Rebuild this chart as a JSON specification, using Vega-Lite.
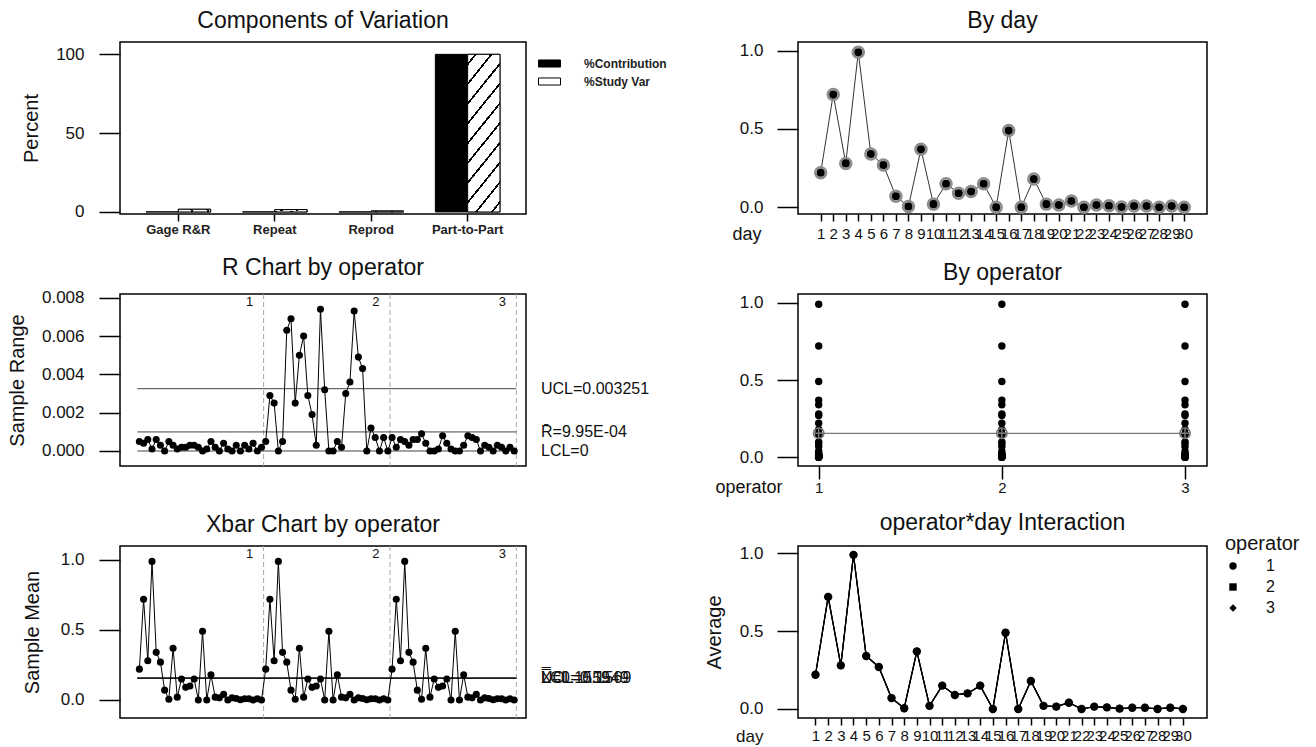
{
  "$schema": "https://vega.github.io/schema/vega-lite/v6.json",
  "autosize": {"type": "none"},
  "padding": {"left": 120, "top": 42, "right": 1196, "bottom": 705},
  "background": "white",
  "config": {
    "font": "Liberation Sans",
    "view": {"stroke": "#000", "strokeWidth": 1.5},
    "axis": {"domain": false, "grid": false, "tickColor": "#000", "tickWidth": 1.5, "labelColor": "#111", "titleColor": "#111", "labelFontSize": 17, "titleFontSize": 20, "titleFontWeight": "normal", "labelFont": "Liberation Sans", "titleFont": "Liberation Sans"},
    "title": {"fontSize": 23, "fontWeight": "normal", "color": "#111", "offset": 9, "frame": "group", "anchor": "middle", "font": "Liberation Sans"},
    "legend": {"labelFont": "Liberation Sans", "titleFont": "Liberation Sans"}
  },
  "datasets": {
    "obs": [
      {"s":1,"operator":1,"day":1,"mean":0.22,"range":0.0005},
      {"s":2,"operator":1,"day":2,"mean":0.72,"range":0.0004},
      {"s":3,"operator":1,"day":3,"mean":0.28,"range":0.0006},
      {"s":4,"operator":1,"day":4,"mean":0.99,"range":0.0001},
      {"s":5,"operator":1,"day":5,"mean":0.34,"range":0.0006},
      {"s":6,"operator":1,"day":6,"mean":0.27,"range":0.0003},
      {"s":7,"operator":1,"day":7,"mean":0.07,"range":0.0},
      {"s":8,"operator":1,"day":8,"mean":0.005,"range":0.0005},
      {"s":9,"operator":1,"day":9,"mean":0.37,"range":0.0003},
      {"s":10,"operator":1,"day":10,"mean":0.02,"range":0.0001},
      {"s":11,"operator":1,"day":11,"mean":0.15,"range":0.0002},
      {"s":12,"operator":1,"day":12,"mean":0.09,"range":0.0002},
      {"s":13,"operator":1,"day":13,"mean":0.1,"range":0.0003},
      {"s":14,"operator":1,"day":14,"mean":0.15,"range":0.0003},
      {"s":15,"operator":1,"day":15,"mean":0.0,"range":0.0002},
      {"s":16,"operator":1,"day":16,"mean":0.49,"range":0.0},
      {"s":17,"operator":1,"day":17,"mean":0.0,"range":0.0001},
      {"s":18,"operator":1,"day":18,"mean":0.18,"range":0.0005},
      {"s":19,"operator":1,"day":19,"mean":0.02,"range":0.0002},
      {"s":20,"operator":1,"day":20,"mean":0.015,"range":0.0},
      {"s":21,"operator":1,"day":21,"mean":0.04,"range":0.0004},
      {"s":22,"operator":1,"day":22,"mean":0.0,"range":0.0001},
      {"s":23,"operator":1,"day":23,"mean":0.015,"range":0.0},
      {"s":24,"operator":1,"day":24,"mean":0.01,"range":0.0003},
      {"s":25,"operator":1,"day":25,"mean":0.002,"range":0.0},
      {"s":26,"operator":1,"day":26,"mean":0.008,"range":0.0003},
      {"s":27,"operator":1,"day":27,"mean":0.008,"range":0.0001},
      {"s":28,"operator":1,"day":28,"mean":0.0,"range":0.0004},
      {"s":29,"operator":1,"day":29,"mean":0.008,"range":0.0},
      {"s":30,"operator":1,"day":30,"mean":0.0,"range":0.0002},
      {"s":31,"operator":2,"day":1,"mean":0.22,"range":0.0005},
      {"s":32,"operator":2,"day":2,"mean":0.72,"range":0.0029},
      {"s":33,"operator":2,"day":3,"mean":0.28,"range":0.0025},
      {"s":34,"operator":2,"day":4,"mean":0.99,"range":0.0},
      {"s":35,"operator":2,"day":5,"mean":0.34,"range":0.0005},
      {"s":36,"operator":2,"day":6,"mean":0.27,"range":0.0063},
      {"s":37,"operator":2,"day":7,"mean":0.07,"range":0.0069},
      {"s":38,"operator":2,"day":8,"mean":0.005,"range":0.0025},
      {"s":39,"operator":2,"day":9,"mean":0.37,"range":0.005},
      {"s":40,"operator":2,"day":10,"mean":0.02,"range":0.006},
      {"s":41,"operator":2,"day":11,"mean":0.15,"range":0.0029},
      {"s":42,"operator":2,"day":12,"mean":0.09,"range":0.0019},
      {"s":43,"operator":2,"day":13,"mean":0.1,"range":0.0003},
      {"s":44,"operator":2,"day":14,"mean":0.15,"range":0.0074},
      {"s":45,"operator":2,"day":15,"mean":0.0,"range":0.0032},
      {"s":46,"operator":2,"day":16,"mean":0.49,"range":0.0},
      {"s":47,"operator":2,"day":17,"mean":0.0,"range":0.0},
      {"s":48,"operator":2,"day":18,"mean":0.18,"range":0.0005},
      {"s":49,"operator":2,"day":19,"mean":0.02,"range":0.0002},
      {"s":50,"operator":2,"day":20,"mean":0.015,"range":0.003},
      {"s":51,"operator":2,"day":21,"mean":0.04,"range":0.0036},
      {"s":52,"operator":2,"day":22,"mean":0.0,"range":0.0073},
      {"s":53,"operator":2,"day":23,"mean":0.015,"range":0.0049},
      {"s":54,"operator":2,"day":24,"mean":0.01,"range":0.0043},
      {"s":55,"operator":2,"day":25,"mean":0.002,"range":0.0},
      {"s":56,"operator":2,"day":26,"mean":0.008,"range":0.0012},
      {"s":57,"operator":2,"day":27,"mean":0.008,"range":0.0007},
      {"s":58,"operator":2,"day":28,"mean":0.0,"range":0.0},
      {"s":59,"operator":2,"day":29,"mean":0.008,"range":0.0007},
      {"s":60,"operator":2,"day":30,"mean":0.0,"range":0.0},
      {"s":61,"operator":3,"day":1,"mean":0.22,"range":0.0007},
      {"s":62,"operator":3,"day":2,"mean":0.72,"range":0.0002},
      {"s":63,"operator":3,"day":3,"mean":0.28,"range":0.0006},
      {"s":64,"operator":3,"day":4,"mean":0.99,"range":0.0005},
      {"s":65,"operator":3,"day":5,"mean":0.34,"range":0.0003},
      {"s":66,"operator":3,"day":6,"mean":0.27,"range":0.0006},
      {"s":67,"operator":3,"day":7,"mean":0.07,"range":0.0006},
      {"s":68,"operator":3,"day":8,"mean":0.005,"range":0.0009},
      {"s":69,"operator":3,"day":9,"mean":0.37,"range":0.0004},
      {"s":70,"operator":3,"day":10,"mean":0.02,"range":0.0},
      {"s":71,"operator":3,"day":11,"mean":0.15,"range":0.0},
      {"s":72,"operator":3,"day":12,"mean":0.09,"range":0.0001},
      {"s":73,"operator":3,"day":13,"mean":0.1,"range":0.0008},
      {"s":74,"operator":3,"day":14,"mean":0.15,"range":0.0004},
      {"s":75,"operator":3,"day":15,"mean":0.0,"range":0.0001},
      {"s":76,"operator":3,"day":16,"mean":0.49,"range":0.0},
      {"s":77,"operator":3,"day":17,"mean":0.0,"range":0.0},
      {"s":78,"operator":3,"day":18,"mean":0.18,"range":0.0003},
      {"s":79,"operator":3,"day":19,"mean":0.02,"range":0.0008},
      {"s":80,"operator":3,"day":20,"mean":0.015,"range":0.0007},
      {"s":81,"operator":3,"day":21,"mean":0.04,"range":0.0006},
      {"s":82,"operator":3,"day":22,"mean":0.0,"range":0.0},
      {"s":83,"operator":3,"day":23,"mean":0.015,"range":0.0003},
      {"s":84,"operator":3,"day":24,"mean":0.01,"range":0.0002},
      {"s":85,"operator":3,"day":25,"mean":0.002,"range":0.0},
      {"s":86,"operator":3,"day":26,"mean":0.008,"range":0.0003},
      {"s":87,"operator":3,"day":27,"mean":0.008,"range":0.0002},
      {"s":88,"operator":3,"day":28,"mean":0.0,"range":0.0},
      {"s":89,"operator":3,"day":29,"mean":0.008,"range":0.0002},
      {"s":90,"operator":3,"day":30,"mean":0.0,"range":0.0}
    ],
    "comp": [
      {"source": "Gage R&R", "stat": "%Contribution", "pct": 0.03},
      {"source": "Gage R&R", "stat": "%Study Var", "pct": 1.7},
      {"source": "Repeat", "stat": "%Contribution", "pct": 0.02},
      {"source": "Repeat", "stat": "%Study Var", "pct": 1.5},
      {"source": "Reprod", "stat": "%Contribution", "pct": 0.0},
      {"source": "Reprod", "stat": "%Study Var", "pct": 0.6},
      {"source": "Part-to-Part", "stat": "%Contribution", "pct": 99.97},
      {"source": "Part-to-Part", "stat": "%Study Var", "pct": 99.99}
    ],
    "bounds": [
      {"b": 30.5, "op": "1"},
      {"b": 60.5, "op": "2"},
      {"b": 90.5, "op": "3"}
    ],
    "rlim": [
      {"v": 0.003251, "label": "UCL=0.003251"},
      {"v": 0.000995, "label": "R\u0304=9.95E-04"},
      {"v": 0.0, "label": "LCL=0"}
    ],
    "xlim": [
      {"v": 0.1569, "label": "UCL=0.1569"},
      {"v": 0.1559, "label": "X\u033F=0.1559"},
      {"v": 0.1549, "label": "LCL=0.1549"}
    ],
    "opmean": [
      {"operator": 1, "mean": 0.155},
      {"operator": 2, "mean": 0.155},
      {"operator": 3, "mean": 0.155}
    ]
  },
  "columns": 2,
  "bounds": "flush",
  "spacing": {"row": 80, "column": 272},
  "concat": [
    {
      "title": "Components of Variation",
      "width": 406,
      "height": 172,
      "data": {"name": "comp"},
      "layer": [
        {
          "mark": {"type": "bar", "stroke": "#000", "strokeWidth": 1},
          "encoding": {
            "x": {"field": "source", "type": "nominal", "sort": ["Gage R&R", "Repeat", "Reprod", "Part-to-Part"], "scale": {"paddingInner": 0.33, "paddingOuter": 0.27}, "axis": {"title": null, "labelAngle": 0, "tickSize": 7, "labelFontSize": 13, "labelFontWeight": "bold", "labelPadding": 2, "labelColor": "#222"}},
            "xOffset": {"field": "stat", "type": "nominal", "sort": ["%Contribution", "%Study Var"], "scale": {"paddingInner": 0, "paddingOuter": 0}},
            "y": {"field": "pct", "type": "quantitative", "scale": {"domain": [-1.3, 107.8], "nice": false, "zero": false}, "axis": {"title": "Percent", "values": [0, 50, 100], "tickSize": 21, "labelPadding": 15, "titleX": -89, "titleY": 86, "titleAngle": -90, "titleAlign": "center", "titleBaseline": "middle"}},
            "y2": {"datum": 0},
            "color": {
              "field": "stat", "type": "nominal",
              "scale": {"domain": ["%Contribution", "%Study Var"], "range": ["#000", "#fff"]},
              "legend": {
                "title": null, "orient": "none", "legendX": 418, "legendY": 10, "padding": 0,
                "symbolType": "M-1,-0.32H1V0.32H-1Z", "symbolSize": 484, "symbolStrokeColor": "#000", "symbolStrokeWidth": 1, "symbolOpacity": 1,
                "labelFontSize": 12, "labelFontWeight": "bold", "labelOffset": 23, "rowPadding": -2, "labelColor": "#222",
                "encode": {"symbols": {"update": {
                  "fill": [
                    {"test": "datum.value === '%Study Var'", "value": {"gradient": "linear", "x1": 0, "y1": 0, "x2": 1.167, "y2": 0.265, "stops": [
                      {"offset": 0, "color": "#fff"}, {"offset": 0.09, "color": "#fff"}, {"offset": 0.09, "color": "#000"}, {"offset": 0.16, "color": "#000"}, {"offset": 0.16, "color": "#fff"},
                      {"offset": 0.34, "color": "#fff"}, {"offset": 0.34, "color": "#000"}, {"offset": 0.41, "color": "#000"}, {"offset": 0.41, "color": "#fff"},
                      {"offset": 0.59, "color": "#fff"}, {"offset": 0.59, "color": "#000"}, {"offset": 0.66, "color": "#000"}, {"offset": 0.66, "color": "#fff"},
                      {"offset": 0.84, "color": "#fff"}, {"offset": 0.84, "color": "#000"}, {"offset": 0.91, "color": "#000"}, {"offset": 0.91, "color": "#fff"},
                      {"offset": 1, "color": "#fff"}
                    ]}},
                    {"value": "#000"}
                  ],
                  "stroke": {"value": "#000"}
                }}}
              }
            }
          }
        },
        {
          "transform": [{"filter": "datum.stat === '%Study Var'"}],
          "mark": {"type": "bar", "stroke": "#000", "strokeWidth": 1, "fill": {"gradient": "linear", "x1": 0, "y1": 0, "x2": 0.3, "y2": 1.178, "stops": [
            {"offset": 0, "color": "#fff"},
            {"offset": 0.043, "color": "#fff"}, {"offset": 0.043, "color": "#000"}, {"offset": 0.057, "color": "#000"}, {"offset": 0.057, "color": "#fff"},
            {"offset": 0.143, "color": "#fff"}, {"offset": 0.143, "color": "#000"}, {"offset": 0.157, "color": "#000"}, {"offset": 0.157, "color": "#fff"},
            {"offset": 0.243, "color": "#fff"}, {"offset": 0.243, "color": "#000"}, {"offset": 0.257, "color": "#000"}, {"offset": 0.257, "color": "#fff"},
            {"offset": 0.343, "color": "#fff"}, {"offset": 0.343, "color": "#000"}, {"offset": 0.357, "color": "#000"}, {"offset": 0.357, "color": "#fff"},
            {"offset": 0.443, "color": "#fff"}, {"offset": 0.443, "color": "#000"}, {"offset": 0.457, "color": "#000"}, {"offset": 0.457, "color": "#fff"},
            {"offset": 0.543, "color": "#fff"}, {"offset": 0.543, "color": "#000"}, {"offset": 0.557, "color": "#000"}, {"offset": 0.557, "color": "#fff"},
            {"offset": 0.643, "color": "#fff"}, {"offset": 0.643, "color": "#000"}, {"offset": 0.657, "color": "#000"}, {"offset": 0.657, "color": "#fff"},
            {"offset": 0.743, "color": "#fff"}, {"offset": 0.743, "color": "#000"}, {"offset": 0.757, "color": "#000"}, {"offset": 0.757, "color": "#fff"},
            {"offset": 0.843, "color": "#fff"}, {"offset": 0.843, "color": "#000"}, {"offset": 0.857, "color": "#000"}, {"offset": 0.857, "color": "#fff"},
            {"offset": 0.943, "color": "#fff"}, {"offset": 0.943, "color": "#000"}, {"offset": 0.957, "color": "#000"}, {"offset": 0.957, "color": "#fff"},
            {"offset": 1, "color": "#fff"}
          ]}},
          "encoding": {
            "x": {"field": "source", "type": "nominal", "sort": ["Gage R&R", "Repeat", "Reprod", "Part-to-Part"], "scale": {"paddingInner": 0.33, "paddingOuter": 0.27}, "axis": {"title": null, "labelAngle": 0, "tickSize": 7, "labelFontSize": 13, "labelFontWeight": "bold", "labelPadding": 2, "labelColor": "#222"}},
            "xOffset": {"field": "stat", "type": "nominal", "sort": ["%Contribution", "%Study Var"], "scale": {"domain": ["%Contribution", "%Study Var"], "paddingInner": 0, "paddingOuter": 0}},
            "y": {"field": "pct", "type": "quantitative", "scale": {"domain": [-1.3, 107.8], "nice": false, "zero": false}, "axis": {"title": "Percent", "values": [0, 50, 100], "tickSize": 21, "labelPadding": 15, "titleX": -89, "titleY": 86, "titleAngle": -90, "titleAlign": "center", "titleBaseline": "middle"}},
            "y2": {"datum": 0}
          }
        }
      ]
    },
    {
      "title": "By day",
      "width": 409,
      "height": 172,
      "data": {"name": "obs"},
      "layer": [
        {
          "mark": {"type": "line", "color": "#333", "strokeWidth": 1},
          "encoding": {
            "x": {"field": "day", "type": "quantitative", "scale": {"domain": [-0.81, 31.82], "nice": false, "zero": false}, "axis": {"title": "day", "values": [1,2,3,4,5,6,7,8,9,10,11,12,13,14,15,16,17,18,19,20,21,22,23,24,25,26,27,28,29,30], "tickSize": 7, "labelPadding": 5, "labelOverlap": false, "labelFontSize": 15, "titleX": -37, "titleY": 20, "titleAlign": "right", "titleBaseline": "middle", "titleAngle": 0, "titleFontSize": 18}},
            "y": {"aggregate": "mean", "field": "mean", "type": "quantitative", "scale": {"domain": [-0.043, 1.055], "nice": false, "zero": false}, "axis": {"title": " ", "values": [0, 0.5, 1], "format": ".1f", "tickSize": 21, "labelPadding": 14}}
          }
        },
        {
          "mark": {"type": "point", "shape": "circle", "filled": false, "stroke": "#8c8c8c", "strokeWidth": 2.5, "size": 120, "opacity": 1},
          "encoding": {
            "x": {"field": "day", "type": "quantitative", "scale": {"domain": [-0.81, 31.82], "nice": false, "zero": false}, "axis": {"title": "day", "values": [1,2,3,4,5,6,7,8,9,10,11,12,13,14,15,16,17,18,19,20,21,22,23,24,25,26,27,28,29,30], "tickSize": 7, "labelPadding": 5, "labelOverlap": false, "labelFontSize": 15, "titleX": -37, "titleY": 20, "titleAlign": "right", "titleBaseline": "middle", "titleAngle": 0, "titleFontSize": 18}},
            "y": {"aggregate": "mean", "field": "mean", "type": "quantitative", "scale": {"domain": [-0.043, 1.055], "nice": false, "zero": false}, "axis": {"title": " ", "values": [0, 0.5, 1], "format": ".1f", "tickSize": 21, "labelPadding": 14}}
          }
        },
        {
          "mark": {"type": "circle", "color": "#000", "size": 65, "opacity": 1},
          "encoding": {
            "x": {"field": "day", "type": "quantitative", "scale": {"domain": [-0.81, 31.82], "nice": false, "zero": false}, "axis": {"title": "day", "values": [1,2,3,4,5,6,7,8,9,10,11,12,13,14,15,16,17,18,19,20,21,22,23,24,25,26,27,28,29,30], "tickSize": 7, "labelPadding": 5, "labelOverlap": false, "labelFontSize": 15, "titleX": -37, "titleY": 20, "titleAlign": "right", "titleBaseline": "middle", "titleAngle": 0, "titleFontSize": 18}},
            "y": {"aggregate": "mean", "field": "mean", "type": "quantitative", "scale": {"domain": [-0.043, 1.055], "nice": false, "zero": false}, "axis": {"title": " ", "values": [0, 0.5, 1], "format": ".1f", "tickSize": 21, "labelPadding": 14}}
          }
        }
      ]
    },
    {
      "title": "R Chart by operator",
      "width": 406,
      "height": 172,
      "layer": [
        {
          "data": {"name": "bounds"},
          "mark": {"type": "rule", "color": "#a8a8a8", "strokeDash": [5, 3], "strokeWidth": 1},
          "encoding": {"x": {"field": "b", "type": "quantitative", "scale": {"domain": [-3.6, 92.8], "nice": false, "zero": false}, "axis": null}}
        },
        {
          "data": {"name": "bounds"},
          "mark": {"type": "text", "dx": -14, "dy": 2, "baseline": "top", "align": "center", "fontSize": 13, "color": "#111"},
          "encoding": {
            "x": {"field": "b", "type": "quantitative", "scale": {"domain": [-3.6, 92.8], "nice": false, "zero": false}, "axis": null},
            "y": {"datum": 0.008193, "type": "quantitative", "scale": {"domain": [-0.000783, 0.008193], "nice": false, "zero": false}, "axis": {"title": "Sample Range", "values": [0, 0.002, 0.004, 0.006, 0.008], "format": ".3f", "tickSize": 21, "labelPadding": 15, "titleX": -103, "titleY": 86, "titleAngle": -90, "titleAlign": "center", "titleBaseline": "middle"}},
            "text": {"field": "op"}
          }
        },
        {
          "data": {"name": "rlim"},
          "mark": {"type": "rule", "color": "#444", "strokeWidth": 1},
          "encoding": {
            "y": {"field": "v", "type": "quantitative", "scale": {"domain": [-0.000783, 0.008193], "nice": false, "zero": false}, "axis": {"title": "Sample Range", "values": [0, 0.002, 0.004, 0.006, 0.008], "format": ".3f", "tickSize": 21, "labelPadding": 15, "titleX": -103, "titleY": 86, "titleAngle": -90, "titleAlign": "center", "titleBaseline": "middle"}},
            "x": {"datum": 0.5, "type": "quantitative", "scale": {"domain": [-3.6, 92.8], "nice": false, "zero": false}, "axis": null},
            "x2": {"datum": 90.5}
          }
        },
        {
          "data": {"name": "obs"},
          "mark": {"type": "line", "color": "#000", "strokeWidth": 1},
          "encoding": {
            "x": {"field": "s", "type": "quantitative", "scale": {"domain": [-3.6, 92.8], "nice": false, "zero": false}, "axis": null},
            "y": {"field": "range", "type": "quantitative", "scale": {"domain": [-0.000783, 0.008193], "nice": false, "zero": false}, "axis": {"title": "Sample Range", "values": [0, 0.002, 0.004, 0.006, 0.008], "format": ".3f", "tickSize": 21, "labelPadding": 15, "titleX": -103, "titleY": 86, "titleAngle": -90, "titleAlign": "center", "titleBaseline": "middle"}}
          }
        },
        {
          "data": {"name": "obs"},
          "mark": {"type": "circle", "color": "#000", "size": 50, "opacity": 1},
          "encoding": {
            "x": {"field": "s", "type": "quantitative", "scale": {"domain": [-3.6, 92.8], "nice": false, "zero": false}, "axis": null},
            "y": {"field": "range", "type": "quantitative", "scale": {"domain": [-0.000783, 0.008193], "nice": false, "zero": false}, "axis": {"title": "Sample Range", "values": [0, 0.002, 0.004, 0.006, 0.008], "format": ".3f", "tickSize": 21, "labelPadding": 15, "titleX": -103, "titleY": 86, "titleAngle": -90, "titleAlign": "center", "titleBaseline": "middle"}}
          }
        },
        {
          "data": {"name": "rlim"},
          "mark": {"type": "text", "align": "left", "baseline": "middle", "dx": 15, "fontSize": 16, "color": "#111"},
          "encoding": {
            "x": {"datum": 92.8, "type": "quantitative", "scale": {"domain": [-3.6, 92.8], "nice": false, "zero": false}, "axis": null},
            "y": {"field": "v", "type": "quantitative", "scale": {"domain": [-0.000783, 0.008193], "nice": false, "zero": false}, "axis": {"title": "Sample Range", "values": [0, 0.002, 0.004, 0.006, 0.008], "format": ".3f", "tickSize": 21, "labelPadding": 15, "titleX": -103, "titleY": 86, "titleAngle": -90, "titleAlign": "center", "titleBaseline": "middle"}},
            "text": {"field": "label"}
          }
        }
      ]
    },
    {
      "title": "By operator",
      "width": 409,
      "height": 172,
      "layer": [
        {
          "data": {"name": "obs"},
          "mark": {"type": "circle", "color": "#000", "size": 55, "opacity": 1},
          "encoding": {
            "x": {"field": "operator", "type": "quantitative", "scale": {"domain": [0.887, 3.12], "nice": false, "zero": false}, "axis": {"title": "operator", "values": [1, 2, 3], "tickSize": 13, "labelPadding": 1, "labelFontSize": 15, "titleX": -16, "titleY": 21, "titleAlign": "right", "titleBaseline": "middle", "titleAngle": 0, "titleFontSize": 18}},
            "y": {"field": "mean", "type": "quantitative", "scale": {"domain": [-0.056, 1.056], "nice": false, "zero": false}, "axis": {"title": " ", "values": [0, 0.5, 1], "format": ".1f", "tickSize": 21, "labelPadding": 14}}
          }
        },
        {
          "data": {"name": "opmean"},
          "mark": {"type": "line", "color": "#777", "strokeWidth": 1.3},
          "encoding": {
            "x": {"field": "operator", "type": "quantitative", "scale": {"domain": [0.887, 3.12], "nice": false, "zero": false}, "axis": {"title": "operator", "values": [1, 2, 3], "tickSize": 13, "labelPadding": 1, "labelFontSize": 15, "titleX": -16, "titleY": 21, "titleAlign": "right", "titleBaseline": "middle", "titleAngle": 0, "titleFontSize": 18}},
            "y": {"field": "mean", "type": "quantitative", "scale": {"domain": [-0.056, 1.056], "nice": false, "zero": false}, "axis": {"title": " ", "values": [0, 0.5, 1], "format": ".1f", "tickSize": 21, "labelPadding": 14}}
          }
        },
        {
          "data": {"name": "opmean"},
          "mark": {"type": "point", "shape": "circle", "filled": false, "stroke": "#777", "strokeWidth": 1.5, "size": 110, "opacity": 1},
          "encoding": {
            "x": {"field": "operator", "type": "quantitative", "scale": {"domain": [0.887, 3.12], "nice": false, "zero": false}, "axis": {"title": "operator", "values": [1, 2, 3], "tickSize": 13, "labelPadding": 1, "labelFontSize": 15, "titleX": -16, "titleY": 21, "titleAlign": "right", "titleBaseline": "middle", "titleAngle": 0, "titleFontSize": 18}},
            "y": {"field": "mean", "type": "quantitative", "scale": {"domain": [-0.056, 1.056], "nice": false, "zero": false}, "axis": {"title": " ", "values": [0, 0.5, 1], "format": ".1f", "tickSize": 21, "labelPadding": 14}}
          }
        },
        {
          "data": {"name": "opmean"},
          "mark": {"type": "point", "shape": "M-1,0H1M0,-1V1", "filled": false, "stroke": "#777", "strokeWidth": 1.5, "size": 110, "opacity": 1},
          "encoding": {
            "x": {"field": "operator", "type": "quantitative", "scale": {"domain": [0.887, 3.12], "nice": false, "zero": false}, "axis": {"title": "operator", "values": [1, 2, 3], "tickSize": 13, "labelPadding": 1, "labelFontSize": 15, "titleX": -16, "titleY": 21, "titleAlign": "right", "titleBaseline": "middle", "titleAngle": 0, "titleFontSize": 18}},
            "y": {"field": "mean", "type": "quantitative", "scale": {"domain": [-0.056, 1.056], "nice": false, "zero": false}, "axis": {"title": " ", "values": [0, 0.5, 1], "format": ".1f", "tickSize": 21, "labelPadding": 14}}
          }
        }
      ]
    },
    {
      "title": "Xbar Chart by operator",
      "width": 406,
      "height": 172,
      "layer": [
        {
          "data": {"name": "bounds"},
          "mark": {"type": "rule", "color": "#a8a8a8", "strokeDash": [5, 3], "strokeWidth": 1},
          "encoding": {"x": {"field": "b", "type": "quantitative", "scale": {"domain": [-3.6, 92.8], "nice": false, "zero": false}, "axis": null}}
        },
        {
          "data": {"name": "bounds"},
          "mark": {"type": "text", "dx": -14, "dy": 2, "baseline": "top", "align": "center", "fontSize": 13, "color": "#111"},
          "encoding": {
            "x": {"field": "b", "type": "quantitative", "scale": {"domain": [-3.6, 92.8], "nice": false, "zero": false}, "axis": null},
            "y": {"datum": 1.1, "type": "quantitative", "scale": {"domain": [-0.129, 1.1], "nice": false, "zero": false}, "axis": {"title": "Sample Mean", "values": [0, 0.5, 1], "format": ".1f", "tickSize": 21, "labelPadding": 15, "titleX": -88, "titleY": 86, "titleAngle": -90, "titleAlign": "center", "titleBaseline": "middle"}},
            "text": {"field": "op"}
          }
        },
        {
          "data": {"name": "xlim"},
          "mark": {"type": "rule", "color": "#111", "strokeWidth": 1},
          "encoding": {
            "y": {"field": "v", "type": "quantitative", "scale": {"domain": [-0.129, 1.1], "nice": false, "zero": false}, "axis": {"title": "Sample Mean", "values": [0, 0.5, 1], "format": ".1f", "tickSize": 21, "labelPadding": 15, "titleX": -88, "titleY": 86, "titleAngle": -90, "titleAlign": "center", "titleBaseline": "middle"}},
            "x": {"datum": 0.5, "type": "quantitative", "scale": {"domain": [-3.6, 92.8], "nice": false, "zero": false}, "axis": null},
            "x2": {"datum": 90.5}
          }
        },
        {
          "data": {"name": "obs"},
          "mark": {"type": "line", "color": "#000", "strokeWidth": 1},
          "encoding": {
            "x": {"field": "s", "type": "quantitative", "scale": {"domain": [-3.6, 92.8], "nice": false, "zero": false}, "axis": null},
            "y": {"field": "mean", "type": "quantitative", "scale": {"domain": [-0.129, 1.1], "nice": false, "zero": false}, "axis": {"title": "Sample Mean", "values": [0, 0.5, 1], "format": ".1f", "tickSize": 21, "labelPadding": 15, "titleX": -88, "titleY": 86, "titleAngle": -90, "titleAlign": "center", "titleBaseline": "middle"}}
          }
        },
        {
          "data": {"name": "obs"},
          "mark": {"type": "circle", "color": "#000", "size": 50, "opacity": 1},
          "encoding": {
            "x": {"field": "s", "type": "quantitative", "scale": {"domain": [-3.6, 92.8], "nice": false, "zero": false}, "axis": null},
            "y": {"field": "mean", "type": "quantitative", "scale": {"domain": [-0.129, 1.1], "nice": false, "zero": false}, "axis": {"title": "Sample Mean", "values": [0, 0.5, 1], "format": ".1f", "tickSize": 21, "labelPadding": 15, "titleX": -88, "titleY": 86, "titleAngle": -90, "titleAlign": "center", "titleBaseline": "middle"}}
          }
        },
        {
          "data": {"name": "xlim"},
          "mark": {"type": "text", "align": "left", "baseline": "middle", "dx": 15, "fontSize": 16, "color": "#111"},
          "encoding": {
            "x": {"datum": 92.8, "type": "quantitative", "scale": {"domain": [-3.6, 92.8], "nice": false, "zero": false}, "axis": null},
            "y": {"field": "v", "type": "quantitative", "scale": {"domain": [-0.129, 1.1], "nice": false, "zero": false}, "axis": {"title": "Sample Mean", "values": [0, 0.5, 1], "format": ".1f", "tickSize": 21, "labelPadding": 15, "titleX": -88, "titleY": 86, "titleAngle": -90, "titleAlign": "center", "titleBaseline": "middle"}},
            "text": {"field": "label"}
          }
        }
      ]
    },
    {
      "title": "operator*day Interaction",
      "width": 409,
      "height": 172,
      "data": {"name": "obs"},
      "layer": [
        {
          "mark": {"type": "line", "color": "#000", "strokeWidth": 1.2},
          "encoding": {
            "x": {"field": "day", "type": "quantitative", "scale": {"domain": [-0.38, 31.9], "nice": false, "zero": false}, "axis": {"title": "day", "values": [1,2,3,4,5,6,7,8,9,10,11,12,13,14,15,16,17,18,19,20,21,22,23,24,25,26,27,28,29,30], "tickSize": 7, "labelPadding": 3, "labelOverlap": false, "labelFontSize": 15, "titleX": -35, "titleY": 18, "titleAlign": "right", "titleBaseline": "middle", "titleAngle": 0, "titleFontSize": 17}},
            "y": {"field": "mean", "type": "quantitative", "scale": {"domain": [-0.058, 1.047], "nice": false, "zero": false}, "axis": {"title": "Average", "values": [0, 0.5, 1], "format": ".1f", "tickSize": 21, "labelPadding": 14, "titleX": -84, "titleY": 86, "titleAngle": -90, "titleAlign": "center", "titleBaseline": "middle"}},
            "detail": {"field": "operator", "type": "nominal"}
          }
        },
        {
          "mark": {"type": "point", "filled": true, "color": "#000", "opacity": 1},
          "encoding": {
            "x": {"field": "day", "type": "quantitative", "scale": {"domain": [-0.38, 31.9], "nice": false, "zero": false}, "axis": {"title": "day", "values": [1,2,3,4,5,6,7,8,9,10,11,12,13,14,15,16,17,18,19,20,21,22,23,24,25,26,27,28,29,30], "tickSize": 7, "labelPadding": 3, "labelOverlap": false, "labelFontSize": 15, "titleX": -35, "titleY": 18, "titleAlign": "right", "titleBaseline": "middle", "titleAngle": 0, "titleFontSize": 17}},
            "y": {"field": "mean", "type": "quantitative", "scale": {"domain": [-0.058, 1.047], "nice": false, "zero": false}, "axis": {"title": "Average", "values": [0, 0.5, 1], "format": ".1f", "tickSize": 21, "labelPadding": 14, "titleX": -84, "titleY": 86, "titleAngle": -90, "titleAlign": "center", "titleBaseline": "middle"}},
            "size": {"condition": {"test": "datum.operator === 2", "value": 35}, "value": 70},
            "shape": {"field": "operator", "type": "nominal", "scale": {"domain": [1, 2, 3], "range": ["circle", "square", "diamond"]}, "legend": {"title": "operator", "orient": "none", "legendX": 1105, "legendY": 492, "padding": 0, "titleFontSize": 20, "titleFontWeight": "normal", "titleColor": "#111", "titlePadding": 4, "symbolSize": 55, "symbolFillColor": "#000", "symbolStrokeColor": "#000", "labelFontSize": 16, "labelColor": "#111", "labelOffset": 25, "rowPadding": 5}}
          }
        }
      ]
    }
  ]
}
